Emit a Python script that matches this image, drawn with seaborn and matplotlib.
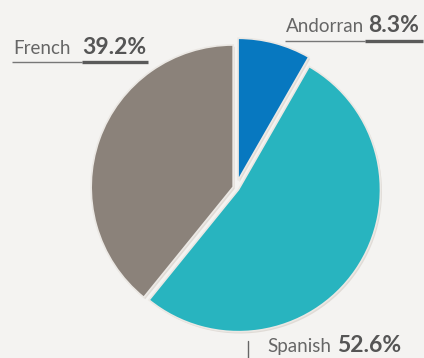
import matplotlib
matplotlib.use("Agg")
import matplotlib.pyplot as plt
import seaborn as sns

# Language shares
languages = ["Andorran", "Spanish", "French"]
shares = [8.3, 52.6, 39.2]
colors = ["#0778c0", "#28b4bf", "#8b827a"]

sns.set_theme(style="white")
plt.rcParams["font.family"] = ["Lato", "DejaVu Sans"]

BG = "#f4f3f1"
W, H = 424, 358
fig = plt.figure(figsize=(W / 100, H / 100), dpi=100, facecolor=BG)
ax = fig.add_axes([0, 0, 1, 1])
ax.set_facecolor(BG)

cx, cy, r = 236, H - 188, 142
# slice offsets from the centre, in axis units
explode = [8, 3, 3]

# soft shadow under the slices
ax.pie(shares, startangle=90, counterclock=False, explode=explode,
       center=(cx + 1.5, cy - 1.8), radius=r, colors=["#e0dbd6"] * 3,
       wedgeprops=dict(linewidth=0), frame=True)
ax.pie(shares, startangle=90, counterclock=False, explode=explode,
       center=(cx, cy), radius=r, colors=colors,
       wedgeprops=dict(linewidth=1.2, edgecolor="#ebe8e4"), frame=True)
ax.set_xlim(0, W)
ax.set_ylim(0, H)
ax.set_aspect("equal")
ax.axis("off")

NAME_C = "#666666"
NUM_C = "#555555"
name_fs, num_fs = 13.5, 16.5


def label(name, value, x_name, x_num, y_base, line_y, x0, x_mid, x1):
    ax.text(x_name, H - y_base, name, fontsize=name_fs, color=NAME_C,
            ha="left", va="baseline")
    ax.text(x_num, H - y_base, f"{value:.1f}%", fontsize=num_fs,
            fontweight="bold", color=NUM_C, ha="left", va="baseline")
    if line_y is not None:
        ax.plot([x0, x_mid], [H - line_y] * 2, color="#777777", lw=1.0,
                solid_capstyle="butt")
        ax.plot([x_mid, x1], [H - line_y] * 2, color="#5a5a5a", lw=2.4,
                solid_capstyle="butt")


label(languages[2], shares[2], 13, 82, 54, 62, 12, 82, 148)
label(languages[0], shares[0], 286, 368, 32, 41, 285, 365, 423)
label(languages[1], shares[1], 267, 337, 352, None, 0, 0, 0)
ax.plot([248, 248], [H - 341, H - 358], color="#666666", lw=1.0)

fig.savefig("out.png", dpi=100, facecolor=BG)
